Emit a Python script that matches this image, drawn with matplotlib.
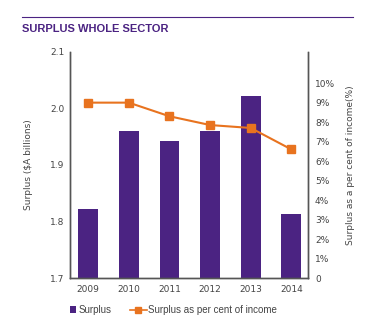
import matplotlib
matplotlib.use('Agg')
import matplotlib.pyplot as plt
from matplotlib.lines import Line2D
from matplotlib.patches import Patch

years = ['2009', '2010', '2011', '2012', '2013', '2014']
surplus = [1.822, 1.960, 1.942, 1.960, 2.022, 1.813]          # $A billions
surplus_pct = [9.0, 9.0, 8.3, 7.85, 7.7, 6.6]                 # per cent of income
left_ticks = [1.7, 1.8, 1.9, 2.0, 2.1]
right_ticks = list(range(0, 11))
right_labels = ['0'] + ['%d%%' % t for t in right_ticks[1:]]

purple = '#4b2382'
orange = '#e8731f'
grey = '#555555'

plt.rcParams['font.family'] = ['DejaVu Sans']

fig = plt.figure(figsize=(3.67, 3.29), dpi=100)
ax = fig.add_axes([0.1907, 0.155, 0.6485, 0.687])
ax2 = ax.twinx()

x = list(range(len(years)))
ax.bar(x, surplus, width=0.49, color=purple, zorder=2)
ax.set_ylim(1.7, 2.1)
ax.set_xlim(-0.45, 5.41)
ax.set_yticks(left_ticks)
ax.set_yticklabels(['%.1f' % t for t in left_ticks])
ax.set_xticks(x)
ax.set_xticklabels(years)

ax2.plot(x, surplus_pct, color=orange, lw=1.5, marker='s', ms=6, zorder=3)
ax2.set_ylim(0, 11.6)
ax2.set_yticks(right_ticks)
ax2.set_yticklabels(right_labels)

for a in (ax, ax2):
    a.tick_params(length=0, labelsize=6.5, colors='#444444', pad=4)
    a.spines['top'].set_visible(False)
    for s in ('left', 'right', 'bottom'):
        a.spines[s].set_color(grey)
        a.spines[s].set_linewidth(1.0)
ax.tick_params(axis='x', pad=5)
ax2.tick_params(axis='y', pad=5)

ax.set_ylabel('Surplus ($A billions)', fontsize=6.5, color='#444444', labelpad=12)
ax2.set_ylabel('Surplus as a per cent of income(%)', fontsize=6.5, color='#444444', labelpad=8)

# heading rule and title
fig.add_artist(Line2D([22 / 367, 353 / 367], [1 - 17 / 329, 1 - 17 / 329],
                      color=purple, lw=0.8))
fig.text(22 / 367, 1 - 29 / 329, 'SURPLUS WHOLE SECTOR', color=purple,
         fontsize=8, fontweight='bold', va='center', ha='left',
         family=['Liberation Sans Narrow', 'DejaVu Sans Condensed', 'Liberation Sans'])

# two legend entries placed separately
legend_font = {'family': 'Liberation Sans', 'size': 7}
fig.legend([Patch(facecolor=purple)], ['Surplus'],
           loc='center left', bbox_to_anchor=(61 / 367, 1 - 310 / 329),
           frameon=False, prop=legend_font, handlelength=0.65, handleheight=0.65,
           handletextpad=0.3, labelcolor='#444444')
fig.legend([Line2D([], [], color=orange, lw=1.2, marker='s', ms=4)],
           ['Surplus as per cent of income'],
           loc='center left', bbox_to_anchor=(121 / 367, 1 - 310 / 329),
           frameon=False, prop=legend_font, handlelength=1.75,
           handletextpad=0.15, labelcolor='#444444')

fig.savefig('out.png', dpi=100)
